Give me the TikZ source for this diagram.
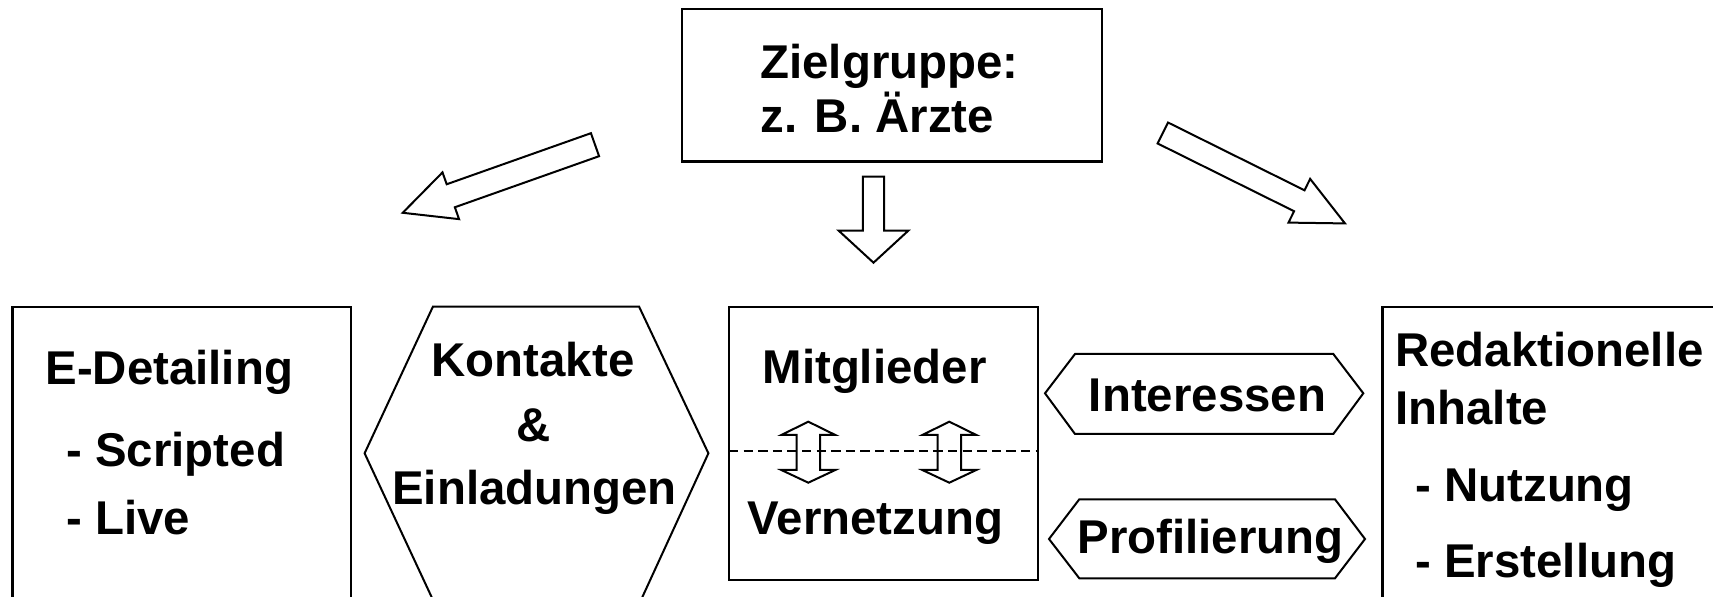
\documentclass[tikz,border=0pt]{standalone}
\usepackage{fontspec}
\setmainfont{Liberation Sans}
\usepackage{tikz}

\begin{document}
\begin{tikzpicture}[x=0.5pt,y=-0.5pt,
    frame/.style={draw,line width=1.2pt},
    blockarrow/.style={draw,line width=1pt,line join=miter},
    label/.style={inner sep=0pt,font=\fontsize{23.7}{28}\selectfont\bfseries}]
   \useasboundingbox (0,0) rectangle (1713,597);
   \clip (0,0) rectangle (1713,597);

   % Zielgruppe
   \draw[frame] (681.7,9.3) rectangle (1101.7,161.7);
   \node[label,anchor=base west] (ziel1) at (760,79) {Zielgruppe:};
   \node[label,anchor=base west] (ziel2) at (760,132.7) {z. B. Ärzte};

   \draw[blockarrow,shift={(595,144.7)},rotate=199.5]
      (0,-12.2) -- (153,-12.2) -- (153,-24.8) -- (204,0) -- (153,24.8) -- (153,12.2) -- (0,12.2) -- cycle;
   \draw[blockarrow,shift={(873.5,176.7)},rotate=270]
      (0,-10.7) -- (54,-10.7) -- (54,-34.8) -- (86,0) -- (54,34.8) -- (54,10.7) -- (0,10.7) -- cycle;
   \draw[blockarrow,shift={(1162.8,133)},rotate=-26.4]
      (0,-11.7) -- (152.4,-11.7) -- (152.4,-24.4) -- (203.4,0) -- (152.4,24.4) -- (152.4,11.7) -- (0,11.7) -- cycle;

   % E-Detailing
   \draw[frame] (12.5,307.3) rectangle (350.7,630);
   \node[label,anchor=base west] (detail) at (45,385) {E-Detailing};
   \node[label,anchor=base west] (scripted) at (66,466.7) {- Scripted};
   \node[label,anchor=base west] (live) at (66,535) {- Live};

   % Kontakte
   \draw[line width=1pt] (364.6,453.3) -- (432.9,306.7) -- (639.1,306.7) -- (708.4,453.3)
      -- (641,600) -- (433,600) -- cycle;
   \node[label,anchor=base] (kontakte) at (533,376.7) {Kontakte};
   \node[label,anchor=base] (und) at (533.3,441.7) {\&};
   \node[label,anchor=base] (einladung) at (534.5,505) {Einladungen};

   % Mitglieder
   \draw[frame] (729,307) rectangle (1038,580);
   \draw[line width=1pt,dash pattern=on 4.7pt off 2.6pt] (729,450.7) -- (1038,450.7);
   \node[label,anchor=base] (mitglieder) at (874.5,384) {Mitglieder};
   \node[label,anchor=base] (vernetzung) at (875.5,535) {Vernetzung};
   \foreach \cx in {808.3,949.3}
      \draw[blockarrow,shift={(\cx,0)}] (0,421.7) -- (27,435) -- (11.7,435) -- (11.7,470) -- (27,470)
         -- (0,482.7) -- (-27,470) -- (-11.7,470) -- (-11.7,435) -- (-27,435) -- cycle;

   % Interessen, Profilierung
   \draw[line width=1pt] (1045,393.3) -- (1075,354) -- (1333.3,354) -- (1363.3,393.3)
      -- (1333.3,434) -- (1075,434) -- cycle;
   \node[label,anchor=base] (interessen) at (1207.5,411.7) {Interessen};
   \draw[line width=1pt] (1049,539) -- (1079.3,499.3) -- (1335,499.3) -- (1365,539)
      -- (1335,578.3) -- (1079.3,578.3) -- cycle;
   \node[label,anchor=base] (profil) at (1210.5,553.3) {Profilierung};

   % Redaktionelle Inhalte
   \draw[frame] (1382.5,307.3) rectangle (1750,630);
   \node[label,anchor=base west] (redakt1) at (1395,366.7) {Redaktionelle};
   \node[label,anchor=base west] (redakt2) at (1395,425) {Inhalte};
   \node[label,anchor=base west] (nutzung) at (1415,501.7) {- Nutzung};
   \node[label,anchor=base west] (erstellung) at (1415,578) {- Erstellung};
\end{tikzpicture}
\end{document}
